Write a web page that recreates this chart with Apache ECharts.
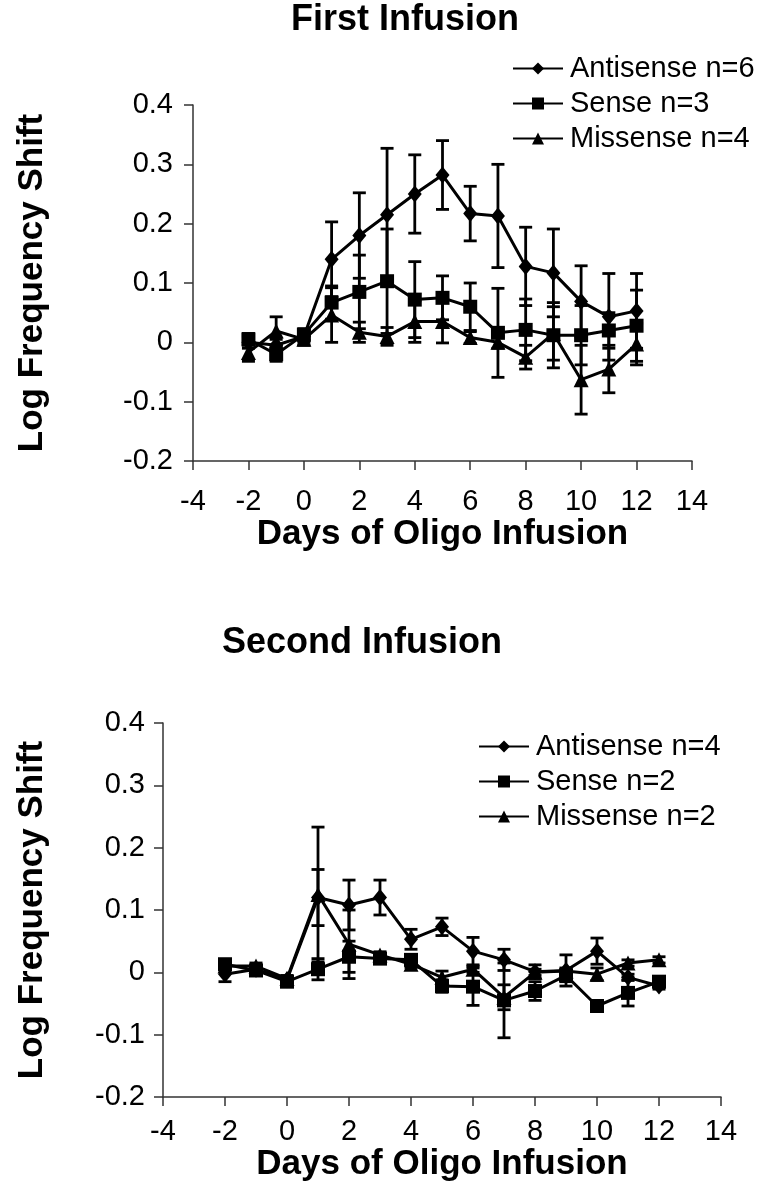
<!DOCTYPE html>
<html>
<head>
<meta charset="utf-8">
<script src="https://cdn.jsdelivr.net/npm/echarts@6/dist/echarts.min.js"></script>
<style>
  html, body { margin: 0; padding: 0; background: #fff; }
  #chart { width: 760px; height: 1199px; }
</style>
</head>
<body>
<div id="chart"></div>
<script>
// days of oligo infusion
const days = [-2, -1, 0, 1, 2, 3, 4, 5, 6, 7, 8, 9, 10, 11, 12]

// first infusion
const anti1 = [0.0, -0.005, 0.01, 0.14, 0.18, 0.215, 0.25, 0.282, 0.217, 0.213, 0.128, 0.117, 0.069, 0.043, 0.053]
const anti1Err = [0.01, 0.01, 0.01, 0.063, 0.072, 0.112, 0.066, 0.058, 0.046, 0.087, 0.066, 0.074, 0.06, 0.073, 0.063]
const sense1 = [0.005, -0.02, 0.013, 0.067, 0.085, 0.103, 0.072, 0.075, 0.06, 0.016, 0.021, 0.012, 0.012, 0.02, 0.028]
const sense1Err = [0.01, 0.012, 0.01, 0.028, 0.062, 0.088, 0.064, 0.037, 0.04, 0.075, 0.052, 0.055, 0.05, 0.03, 0.06]
const miss1 = [-0.017, 0.019, 0.005, 0.046, 0.017, 0.01, 0.035, 0.035, 0.008, 0.0, -0.025, 0.015, -0.063, -0.045, -0.003]
const miss1Err = [0.015, 0.024, 0.01, 0.046, 0.017, 0.015, 0.035, 0.036, 0.01, 0.01, 0.02, 0.045, 0.058, 0.04, 0.035]

// second infusion
const anti2 = [-0.003, 0.005, -0.012, 0.12, 0.108, 0.12, 0.053, 0.073, 0.034, 0.02, 0.001, 0.003, 0.034, -0.008, -0.022]
const anti2Err = [0.012, 0.005, 0.005, 0.045, 0.04, 0.028, 0.016, 0.014, 0.022, 0.017, 0.011, 0.025, 0.021, 0.005, 0.005]
const sense2 = [0.013, 0.003, -0.015, 0.005, 0.025, 0.022, 0.02, -0.022, -0.023, -0.045, -0.03, -0.005, -0.054, -0.033, -0.015]
const sense2Err = [0.005, 0.005, 0.005, 0.017, 0.025, 0.005, 0.005, 0.01, 0.03, 0.06, 0.015, 0.01, 0.005, 0.021, 0.008]
const miss2 = [0.01, 0.01, -0.01, 0.125, 0.045, 0.028, 0.013, -0.008, 0.005, -0.04, 0.0, 0.002, -0.003, 0.015, 0.02]
const miss2Err = [0.005, 0.005, 0.005, 0.108, 0.055, 0.005, 0.005, 0.01, 0.005, 0.02, 0.005, 0.005, 0.01, 0.005, 0.005]

const FONT = '"Liberation Sans", Arial, sans-serif'
const chart = echarts.init(document.getElementById('chart'))

const pts = (vals) => days.map((d, i) => [d, vals[i]])
const bars = (vals, err) => days.map((d, i) => [d, vals[i] - err[i], vals[i] + err[i]])

// vertical error bar with caps
function errRender(params, api) {
  const x = api.value(0)
  const top = api.coord([x, api.value(2)])
  const bot = api.coord([x, api.value(1)])
  const w = 6.5
  const s = { stroke: '#000', lineWidth: 2.8 }
  return {
    type: 'group',
    children: [
      { type: 'line', shape: { x1: top[0], y1: top[1], x2: bot[0], y2: bot[1] }, style: s },
      { type: 'line', shape: { x1: top[0] - w, y1: top[1], x2: top[0] + w, y2: top[1] }, style: s },
      { type: 'line', shape: { x1: bot[0] - w, y1: bot[1], x2: bot[0] + w, y2: bot[1] }, style: s }
    ]
  }
}

function lineSeries(name, vals, symbol, size, idx) {
  return {
    name: name,
    type: 'line',
    xAxisIndex: idx,
    yAxisIndex: idx,
    data: pts(vals),
    symbol: symbol,
    symbolSize: size,
    showAllSymbol: true,
    z: 3,
    lineStyle: { color: '#000', width: 3 },
    itemStyle: { color: '#000', borderWidth: 0 },
    emphasis: { disabled: true }
  }
}

function errSeries(vals, err, idx) {
  return {
    type: 'custom',
    xAxisIndex: idx,
    yAxisIndex: idx,
    renderItem: errRender,
    encode: { x: 0, y: [1, 2] },
    data: bars(vals, err),
    z: 2,
    silent: true
  }
}

const axisLine = { onZero: false, lineStyle: { color: '#333', width: 1.5 } }
const axisTick = { length: 9, lineStyle: { color: '#333', width: 1.5 } }
const tickLabel = { color: '#000', fontSize: 29, fontFamily: FONT }
const nameStyle = { color: '#000', fontSize: 35, fontWeight: 'bold', fontFamily: FONT }

function xAxisFor(idx, gap, margin) {
  return {
    type: 'value', gridIndex: idx, min: -4, max: 14, interval: 2,
    name: 'Days of Oligo Infusion', nameLocation: 'middle', nameGap: gap,
    nameTextStyle: nameStyle,
    axisLine: axisLine, axisTick: axisTick, splitLine: { show: false },
    axisLabel: Object.assign({ margin: margin }, tickLabel)
  }
}

function yAxisFor(idx, gap, margin) {
  return {
    type: 'value', gridIndex: idx, min: -0.2, max: 0.4, interval: 0.1,
    name: 'Log Frequency Shift', nameLocation: 'middle', nameGap: gap, nameRotate: 90,
    nameTextStyle: nameStyle,
    axisLine: axisLine, axisTick: axisTick, splitLine: { show: false },
    axisLabel: Object.assign({ margin: margin, formatter: (v) => String(Math.round(v * 10) / 10) }, tickLabel)
  }
}

function legendFor(names, left, top) {
  return {
    data: names, orient: 'vertical', left: left, top: top, padding: 0,
    itemGap: 0, itemWidth: 50, itemHeight: 15, selectedMode: false,
    textStyle: { color: '#000', fontSize: 29, fontFamily: FONT, lineHeight: 35, padding: [0, 0, 0, 2] }
  }
}

chart.setOption({
  backgroundColor: '#fff',
  animation: false,
  title: [
    { text: 'First Infusion', left: 291, top: 2, padding: 0,
      textStyle: { color: '#000', fontSize: 36, fontWeight: 'bold', fontFamily: FONT } },
    { text: 'Second Infusion', left: 222, top: 625, padding: 0,
      textStyle: { color: '#000', fontSize: 36, fontWeight: 'bold', fontFamily: FONT } }
  ],
  legend: [
    legendFor(['Antisense n=6', 'Sense n=3', 'Missense n=4'], 512, 51),
    legendFor(['Antisense n=4', 'Sense n=2', 'Missense n=2'], 478, 729)
  ],
  grid: [
    { left: 193, right: 68, top: 105, height: 356 },
    { left: 163, right: 39, top: 723, height: 374 }
  ],
  xAxis: [xAxisFor(0, 55, 26), xAxisFor(1, 48, 20)],
  yAxis: [yAxisFor(0, 143, 20), yAxisFor(1, 113, 18)],
  series: [
    errSeries(anti1, anti1Err, 0),
    errSeries(sense1, sense1Err, 0),
    errSeries(miss1, miss1Err, 0),
    lineSeries('Antisense n=6', anti1, 'diamond', [14, 17], 0),
    lineSeries('Sense n=3', sense1, 'rect', 14, 0),
    lineSeries('Missense n=4', miss1, 'triangle', 15, 0),
    errSeries(anti2, anti2Err, 1),
    errSeries(sense2, sense2Err, 1),
    errSeries(miss2, miss2Err, 1),
    lineSeries('Antisense n=4', anti2, 'diamond', [14, 17], 1),
    lineSeries('Sense n=2', sense2, 'rect', 14, 1),
    lineSeries('Missense n=2', miss2, 'triangle', 15, 1)
  ]
})
</script>
</body>
</html>
